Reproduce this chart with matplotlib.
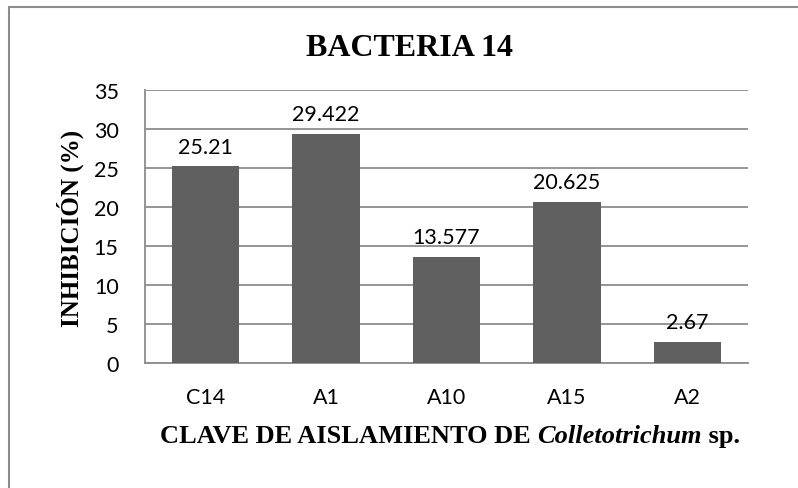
import matplotlib
matplotlib.use("Agg")
import matplotlib.pyplot as plt
from matplotlib.patches import Rectangle

categories = ["C14", "A1", "A10", "A15", "A2"]
inhibition = [25.21, 29.422, 13.577, 20.625, 2.67]
value_labels = ["25.21", "29.422", "13.577", "20.625", "2.67"]
yticks = [0, 5, 10, 15, 20, 25, 30, 35]
xlabel_parts = [("CLAVE DE AISLAMIENTO DE ", "normal"),
                ("Colletotrichum", "italic"),
                (" sp.", "normal")]

BAR = "#606060"
GRID = "#8c8c8c"
SANS = "Lato"
SERIF = "Liberation Serif"

fig = plt.figure(figsize=(7.98, 4.89), dpi=100)
ax = fig.add_axes([145 / 798, 1 - 364 / 489, 603 / 798, 273 / 489])

x = range(len(categories))
ax.bar(x, inhibition, width=0.56, color=BAR, zorder=3)
for i, (v, s) in enumerate(zip(inhibition, value_labels)):
    ax.annotate(s, (i, v), xytext=(0, 7), textcoords="offset points",
                ha="center", va="bottom", fontsize=15.5, family=SANS)

ax.set_xlim(-0.5, len(categories) - 0.5)
ax.set_ylim(0, 35)
ax.set_yticks(yticks)
ax.set_xticks(list(x))
ax.set_xticklabels(categories)
ax.yaxis.grid(True, color=GRID, lw=1.3, zorder=0)
ax.tick_params(length=0, labelsize=15.5)
ax.tick_params(axis="y", pad=19)
ax.tick_params(axis="x", pad=17)
for lab in ax.get_xticklabels() + ax.get_yticklabels():
    lab.set_family(SANS)
for s in ["top", "right"]:
    ax.spines[s].set_visible(False)
for s in ["left", "bottom"]:
    ax.spines[s].set_color(GRID)
    ax.spines[s].set_linewidth(1.3)

fig.text(410 / 798, 1 - 48 / 489, "BACTERIA 14", ha="center", va="center",
         fontsize=23, fontweight="bold", family=SERIF)
fig.text(70 / 798, 1 - 228 / 489, "INHIBICIÓN (%)", ha="center", va="center",
         rotation=90, fontsize=18, fontweight="bold", family=SERIF)

# x label with italic genus name: lay the pieces side by side
r = fig.canvas.get_renderer()
pieces = [fig.text(0, 1 - 437 / 489, t, ha="left", va="center", fontsize=19,
                   fontweight="bold", fontstyle=st, family=SERIF)
          for t, st in xlabel_parts]
widths = [p.get_window_extent(r).width for p in pieces]
x0 = 450 - sum(widths) / 2
for p, w in zip(pieces, widths):
    p.set_x(x0 / 798)
    x0 += w

# outer chart border (cropped on right/bottom)
fig.patches.append(Rectangle((9 / 798, -0.1), 1.2, 1 - 8 / 489 + 0.1,
                             transform=fig.transFigure, fill=False,
                             edgecolor="#8c8c8c", lw=1.5))

fig.savefig("out.png", dpi=100)
